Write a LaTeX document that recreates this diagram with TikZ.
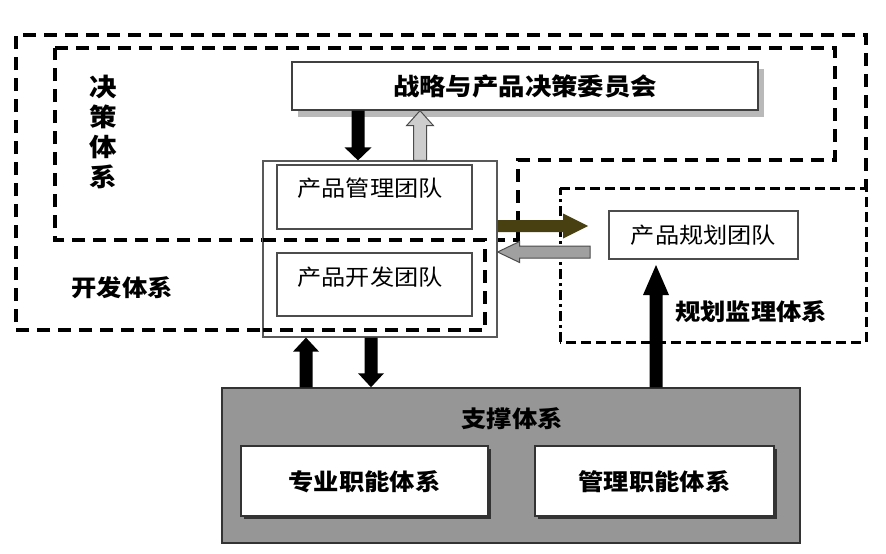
\documentclass[tikz,border=0pt]{standalone}
\usepackage{fontspec}
\setmainfont{Noto Sans CJK SC}[FakeStretch=1.1]
\usetikzlibrary{calc}
\definecolor{arrowolive}{RGB}{72,64,16}
\definecolor{supgray}{RGB}{150,150,150}
\definecolor{lightarr}{RGB}{205,205,205}
\definecolor{midarr}{RGB}{160,160,160}
\newcommand\blockarrow[6]{%
  \coordinate (bab) at ($(#3)!#6!(#2)$);
  \path[#1] ($(#2)!#4!90:(#3)$) -- ($(bab)!#4!-90:(#2)$) -- ($(bab)!#5!-90:(#2)$) -- (#3)
    -- ($(bab)!#5!90:(#2)$) -- ($(bab)!#4!90:(#2)$) -- ($(#2)!#4!-90:(#3)$) -- cycle;}
\tikzset{
  bigdash/.style={line width=3.5pt, dash pattern=on 13pt off 8pt},
  smalldash/.style={line width=3pt, dash pattern=on 10pt off 5pt},
  dashdotline/.style={line width=3pt, dash pattern=on 10pt off 4pt on 3pt off 4pt},
  plainbox/.style={draw=black!75, line width=1.4pt, fill=white},
  boldlbl/.style={font=\fontsize{23}{28}\selectfont\bfseries},
  normlbl/.style={font=\fontsize{22}{26}\selectfont},
}
\begin{document}
\begin{tikzpicture}[x=1pt,y=-1pt]
\useasboundingbox (0,0) rectangle (886,554);
\fill[white] (0,0) rectangle (886,554);

% dashed system outlines
\draw[bigdash] (485,240) -- (485,330) -- (16,330) -- (16,35) -- (866,35) -- (866,188);
\draw[bigdash] (55,48) -- (835,48) -- (835,160) -- (518,160) -- (518,240) -- (55,240) -- cycle;
\draw[smalldash] (560,188) -- (866,188) -- (866,342) -- (560,342);
\draw[dashdotline] (560,342) -- (560,188);

% top committee box with shadow
\fill[gray!55] (298,69) rectangle (764,117);
\node[plainbox, minimum width=466pt, minimum height=48pt, inner sep=0pt] (top) at (525,86) {};
\node[boldlbl, font=\fontsize{24}{28}\selectfont\bfseries] at (525,86) {战略与产品决策委员会};

% team box
\node[draw=black!65, line width=1.2pt, fill=white, minimum width=234pt, minimum height=176pt, inner sep=0pt] (team) at (380,249) {};
\node[plainbox, draw=black!70, minimum width=195pt, minimum height=64pt, inner sep=0pt] (pm) at (374.5,197) {};
\node[normlbl] at (370,188) {产品管理团队};
\node[plainbox, draw=black!70, minimum width=195pt, minimum height=63pt, inner sep=0pt] (pd) at (374.5,284.5) {};
\node[normlbl] at (370,277) {产品开发团队};
% redraw dashed line across team box
\draw[bigdash] (263,240) -- (485,240) -- (485,330) -- (263,330);

% planning team
\node[plainbox, draw=black!70, minimum width=189pt, minimum height=48pt, inner sep=0pt] (pt) at (703.5,235) {};
\node[normlbl] at (703.5,235) {产品规划团队};

% support system
\node[draw=black!80, line width=1.5pt, fill=supgray, minimum width=578pt, minimum height=155pt, inner sep=0pt] (sup) at (511,465.5) {};
\fill[black!80] (244,449) rectangle (491,519);
\node[plainbox, draw=black!80, minimum width=247pt, minimum height=70pt, inner sep=0pt] (sp1) at (364.5,481) {};
\fill[black!80] (538,449) rectangle (777,519);
\node[plainbox, draw=black!80, minimum width=239pt, minimum height=70pt, inner sep=0pt] (sp2) at (654.5,481) {};
\node[boldlbl] at (364.5,482) {专业职能体系};
\node[boldlbl] at (654.5,482) {管理职能体系};
\node[boldlbl] at (512,419) {支撑体系};

% labels
\node[boldlbl, align=center, font=\fontsize{25}{30}\selectfont\bfseries] at (103,132) {决\\策\\体\\系};
\node[boldlbl] at (122,288) {开发体系};
\node[boldlbl] at (751,312) {规划监理体系};

% arrow coordinates
\coordinate (xa) at (358,0);
\coordinate (xb) at (420,0);
\coordinate (xc) at (306,0);
\coordinate (xd) at (371,0);
\coordinate (xe) at (656,0);
\coordinate (ya) at (0,226);
\coordinate (yb) at (0,252);
\coordinate (olivetip) at (588,226);
\coordinate (grayend) at (590,252);
\coordinate (planarrowtip) at (656,265);

% arrows
\blockarrow{fill=black}{xa |- top.south}{xa |- team.north}{6.5pt}{13.5pt}{13pt}
\blockarrow{fill=lightarr, draw=black!70, line width=1pt}{xb |- team.north}{xb |- top.south}{6.5pt}{13.5pt}{15pt}
\blockarrow{fill=arrowolive}{team.east |- ya}{olivetip}{6pt}{12.5pt}{25pt}
\blockarrow{fill=midarr, draw=black!70, line width=1pt}{grayend}{team.east |- yb}{6pt}{10.5pt}{22pt}
\blockarrow{fill=black}{xc |- sup.north}{xc |- team.south}{6.5pt}{13pt}{14pt}
\blockarrow{fill=black}{xd |- team.south}{xd |- sup.north}{6.5pt}{13pt}{14pt}
\blockarrow{fill=black}{xe |- sup.north}{planarrowtip}{6.5pt}{13pt}{30pt}
\end{tikzpicture}
\end{document}
